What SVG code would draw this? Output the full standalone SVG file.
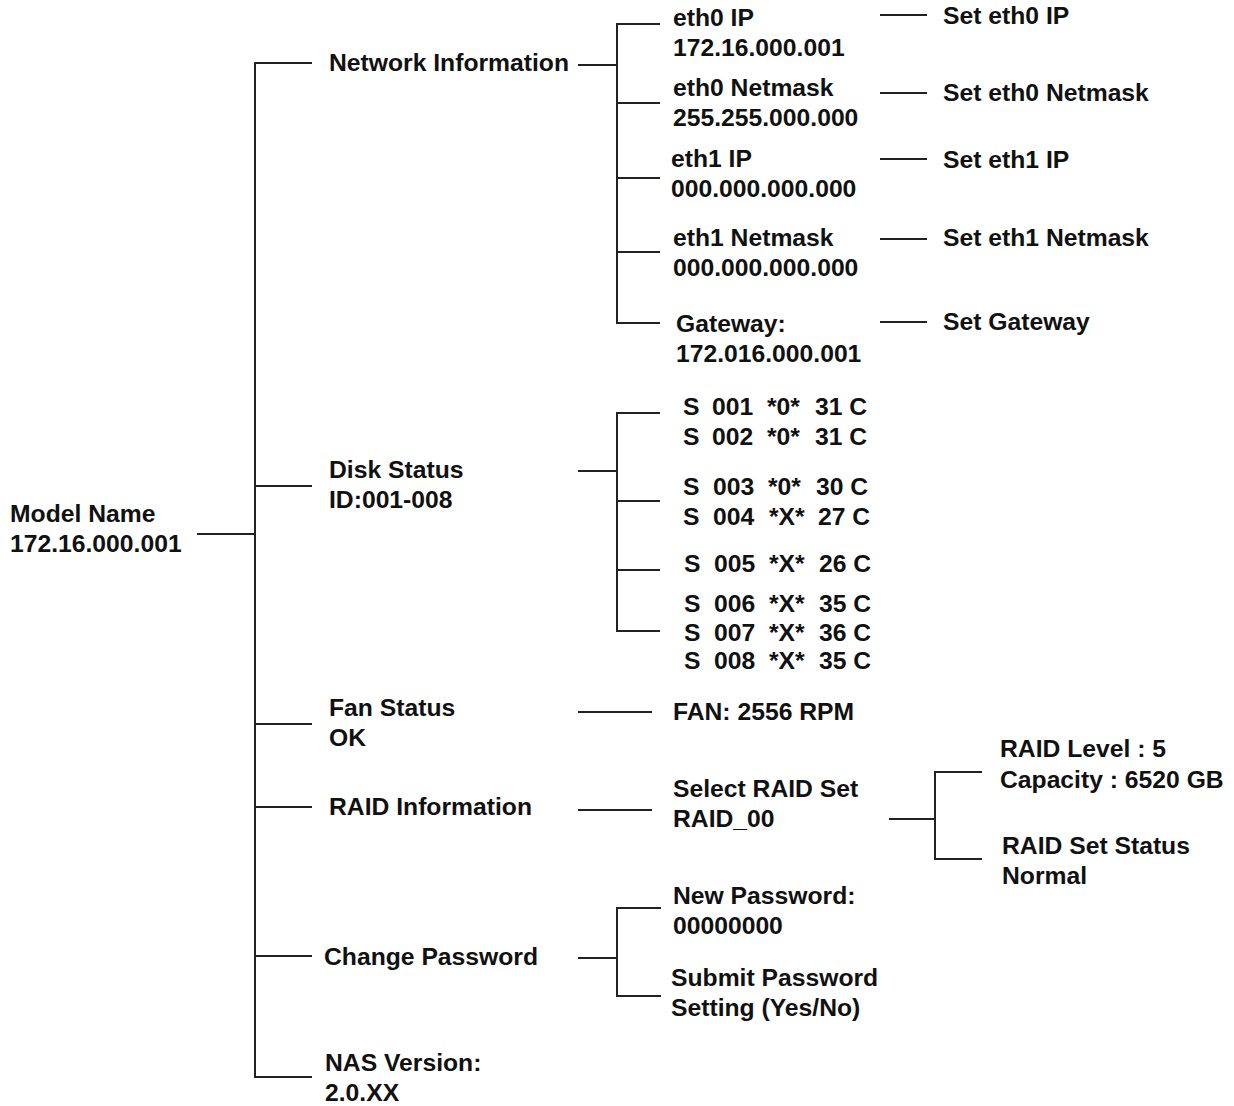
<svg xmlns="http://www.w3.org/2000/svg" width="1234" height="1106" viewBox="0 0 1234 1106">
<style>
text{font-family:"Liberation Sans",Arial,sans-serif;font-weight:bold;font-size:24.7px;fill:#111}
.c line{stroke:#222;stroke-width:2;fill:none}
.c path{stroke:#222;stroke-width:2;fill:none}
</style>
<rect width="1234" height="1106" fill="#fff"/>
<g class="c" id="connectors">
<line x1="197" y1="534" x2="255" y2="534"/>
<path d="M312 63H255V1077H312"/>
<line x1="255" y1="486" x2="312" y2="486"/>
<line x1="255" y1="724" x2="312" y2="724"/>
<line x1="255" y1="807" x2="312" y2="807"/>
<line x1="255" y1="956" x2="312" y2="956"/>
<line x1="578" y1="65" x2="617" y2="65"/>
<path d="M660 24H617V323H660"/>
<line x1="617" y1="103" x2="660" y2="103"/>
<line x1="617" y1="178" x2="660" y2="178"/>
<line x1="617" y1="252" x2="660" y2="252"/>
<line x1="880" y1="15" x2="927" y2="15"/>
<line x1="880" y1="93" x2="927" y2="93"/>
<line x1="880" y1="159" x2="927" y2="159"/>
<line x1="880" y1="239" x2="927" y2="239"/>
<line x1="880" y1="322" x2="927" y2="322"/>
<line x1="578" y1="471" x2="617" y2="471"/>
<path d="M660 413H617V631H660"/>
<line x1="617" y1="501" x2="660" y2="501"/>
<line x1="617" y1="570" x2="660" y2="570"/>
<line x1="578" y1="712" x2="652" y2="712"/>
<line x1="578" y1="810" x2="652" y2="810"/>
<line x1="889" y1="819" x2="935" y2="819"/>
<path d="M982 772H935V860"/>
<line x1="935" y1="859" x2="982" y2="859"/>
<line x1="578" y1="958" x2="617" y2="958"/>
<path d="M661 908H617V996H661"/>
</g>
<g id="root"><text x="10" y="522">Model Name</text><text x="10" y="552">172.16.000.001</text></g>
<g id="network"><text x="329" y="71">Network Information</text></g>
<g id="disk"><text x="329" y="478">Disk Status</text><text x="329" y="508">ID:001-008</text></g>
<g id="fan"><text x="329" y="716">Fan Status</text><text x="329" y="746">OK</text></g>
<g id="raid"><text x="329" y="815">RAID Information</text></g>
<g id="password"><text x="324" y="965">Change Password</text></g>
<g id="nas"><text x="325" y="1071">NAS Version:</text><text x="325" y="1101">2.0.XX</text></g>
<g id="eth0ip"><text x="673" y="26">eth0 IP</text><text x="673" y="56">172.16.000.001</text></g>
<g id="eth0nm"><text x="673" y="96">eth0 Netmask</text><text x="673" y="126">255.255.000.000</text></g>
<g id="eth1ip"><text x="671" y="167">eth1 IP</text><text x="671" y="197">000.000.000.000</text></g>
<g id="eth1nm"><text x="673" y="246">eth1 Netmask</text><text x="673" y="276">000.000.000.000</text></g>
<g id="gateway"><text x="676" y="332">Gateway:</text><text x="676" y="362">172.016.000.001</text></g>
<g id="seteth0ip"><text x="943" y="24">Set eth0 IP</text></g>
<g id="seteth0nm"><text x="943" y="101">Set eth0 Netmask</text></g>
<g id="seteth1ip"><text x="943" y="168">Set eth1 IP</text></g>
<g id="seteth1nm"><text x="943" y="246">Set eth1 Netmask</text></g>
<g id="setgw"><text x="943" y="330">Set Gateway</text></g>
<g id="disks">
<text y="415"><tspan x="683">S</tspan><tspan x="712">001</tspan><tspan x="767">*0*</tspan><tspan x="815">31 C</tspan></text>
<text y="445"><tspan x="683">S</tspan><tspan x="712">002</tspan><tspan x="767">*0*</tspan><tspan x="815">31 C</tspan></text>
<text y="495"><tspan x="683">S</tspan><tspan x="713">003</tspan><tspan x="768">*0*</tspan><tspan x="816">30 C</tspan></text>
<text y="525"><tspan x="683">S</tspan><tspan x="713">004</tspan><tspan x="769">*X*</tspan><tspan x="818">27 C</tspan></text>
<text y="572"><tspan x="684">S</tspan><tspan x="714">005</tspan><tspan x="769">*X*</tspan><tspan x="819">26 C</tspan></text>
<text y="612"><tspan x="684">S</tspan><tspan x="714">006</tspan><tspan x="769">*X*</tspan><tspan x="819">35 C</tspan></text>
<text y="641"><tspan x="684">S</tspan><tspan x="714">007</tspan><tspan x="769">*X*</tspan><tspan x="819">36 C</tspan></text>
<text y="669"><tspan x="684">S</tspan><tspan x="714">008</tspan><tspan x="769">*X*</tspan><tspan x="819">35 C</tspan></text>
</g>
<g id="fanrpm"><text x="673" y="720">FAN: 2556 RPM</text></g>
<g id="selraid"><text x="673" y="797">Select RAID Set</text><text x="673" y="827">RAID_00</text></g>
<g id="raidlevel"><text x="1000" y="757">RAID Level : 5</text><text x="1000" y="788">Capacity : 6520 GB</text></g>
<g id="raidstatus"><text x="1002" y="854">RAID Set Status</text><text x="1002" y="884">Normal</text></g>
<g id="newpw"><text x="673" y="904">New Password:</text><text x="673" y="934">00000000</text></g>
<g id="submitpw"><text x="671" y="986">Submit Password</text><text x="671" y="1016">Setting (Yes/No)</text></g>
</svg>
